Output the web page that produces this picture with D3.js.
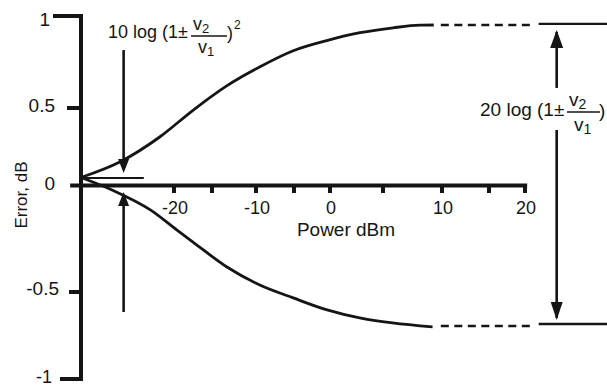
<!DOCTYPE html>
<html><head><meta charset="utf-8">
<script src="https://cdn.jsdelivr.net/npm/d3@7"></script>
<style>
body{margin:0;background:#fff}
svg{display:block}
text{font-family:"Liberation Sans",Arial,sans-serif;fill:#151515}
</style>
</head><body>
<svg id="c" width="607" height="388"></svg>
<script>
// ---- data ----
const yTickValues = [1, 0.5, 0, -0.5, -1];
const yTickLabels = ["1", "0.5", "0", "-0.5", "-1"];
const xTickValues = [-20, -15, -10, -5, 0, 5, 10, 15, 20];
const xTickLabels = ["-20", "", "-10", "", "0", "", "10", "", "20"];

const upperPower = [-32, -27, -21.8, -17.46, -13.33, -9.47, -5.1, -0.46, 2.83, 5.87, 8.14, 9.3];
const upperError = [0.06, 0.158, 0.318, 0.487, 0.620, 0.724, 0.811, 0.866, 0.909, 0.936, 0.950, 0.951];
const lowerPower = [-32, -28, -23, -19.6, -17.5, -13.3, -9.5, -5.1, -0.4, 2.8, 5.8, 9.2];
const lowerError = [0.06, -0.014, -0.11, -0.205, -0.262, -0.381, -0.467, -0.534, -0.603, -0.649, -0.678, -0.701];

const dashPower = [9.9, 20.9];
const tailPower = [21.9, 32];
const upperLevels = [0.951, 0.957];   // dashed, solid tail
const lowerLevels = [-0.695, -0.684];

const spanPower = 24.4;                 // right double arrow
const spanRange = [0.957, -0.684];
const spanGap = [0.609, 0.361];         // where the label interrupts
const markPower = -26.5;                // left arrows
const markUpper = [0.815, 0.089];
const markLower = [-0.024, -0.615];
const startLevel = 0.057;
const startLine = [-32, -23.9];

// ---- scales ----
const x = d3.scaleLinear()
  .domain([-32, -20, -15, -10, -5, 0, 5, 10, 15, 20])
  .range([81, 174, 212, 256, 294, 330, 383, 442, 489, 525]);
const y = d3.scaleLinear()
  .domain([-1, -0.5, 0, 0.5, 1])
  .range([379, 292, 187, 108, 16]);

const svg = d3.select("#c");
const ink = "#151515";

// ---- y axis (bracket style) ----
const yTickLen = {"1": 28, "0.5": 14, "0": 0, "-0.5": 12, "-1": 21};
const yLabelGap = {"1": 31, "0.5": 26, "0": 26, "-0.5": 22, "-1": 29};
const yLabelDy = {"1": 3.5, "0.5": -3, "0": -3.5, "-0.5": -3.5, "-1": -2};
const yLabelSize = {"1": 19, "0.5": 19, "0": 19, "-0.5": 19, "-1": 18};
svg.append("line").attr("x1", x(-32)).attr("x2", x(-32))
  .attr("y1", y(1) - 2).attr("y2", y(-1) + 2)
  .attr("stroke", ink).attr("stroke-width", 4);
yTickValues.forEach((v, i) => {
  const k = String(v);
  const len = yTickLen[k];
  if (len > 0) {
    svg.append("line").attr("x1", x(-32) - len).attr("x2", x(-32) + 2)
      .attr("y1", y(v)).attr("y2", y(v))
      .attr("stroke", ink).attr("stroke-width", 4);
  }
  svg.append("text").attr("x", x(-32) - yLabelGap[k]).attr("y", y(v) + yLabelDy[k])
    .attr("text-anchor", "end").attr("dominant-baseline", "central")
    .attr("font-size", yLabelSize[k]).text(yTickLabels[i]);
});
svg.append("text")
  .attr("transform", `translate(21,195) rotate(-90)`)
  .attr("text-anchor", "middle").attr("dominant-baseline", "central")
  .attr("font-size", 17).text("Error, dB");

// ---- x axis ----
svg.append("line").attr("x1", x(-33.4)).attr("x2", x(20.3))
  .attr("y1", y(0) - 1.5).attr("y2", y(0) - 1.5)
  .attr("stroke", ink).attr("stroke-width", 4);
xTickValues.forEach((v, i) => {
  svg.append("line").attr("x1", x(v)).attr("x2", x(v))
    .attr("y1", y(0)).attr("y2", y(0) + 6)
    .attr("stroke", ink).attr("stroke-width", 4);
  if (xTickLabels[i]) {
    svg.append("text").attr("x", x(v) + 1).attr("y", y(0) + 21)
      .attr("text-anchor", "middle").attr("dominant-baseline", "central")
      .attr("font-size", 18).text(xTickLabels[i]);
  }
});
svg.append("text").attr("x", 346).attr("y", 229)
  .attr("text-anchor", "middle").attr("dominant-baseline", "central")
  .attr("font-size", 19).text("Power dBm");

// ---- curves ----
const line = d3.line().x(d => x(d[0])).y(d => y(d[1])).curve(d3.curveMonotoneX);
const upper = upperPower.map((p, i) => [p, upperError[i]]);
const lower = lowerPower.map((p, i) => [p, lowerError[i]]);
[upper, lower].forEach(pts => {
  svg.append("path").attr("d", line(pts)).attr("fill", "none")
    .attr("stroke", ink).attr("stroke-width", 2.8);
});
[upperLevels, lowerLevels].forEach(lv => {
  svg.append("line").attr("x1", x(dashPower[0])).attr("x2", x(dashPower[1]))
    .attr("y1", y(lv[0])).attr("y2", y(lv[0]))
    .attr("stroke", ink).attr("stroke-width", 2.6).attr("stroke-dasharray", "8,5.5");
  svg.append("line").attr("x1", x(tailPower[0])).attr("x2", x(tailPower[1]))
    .attr("y1", y(lv[1])).attr("y2", y(lv[1]))
    .attr("stroke", ink).attr("stroke-width", 2.4);
});

// ---- annotations ----
function arrowHead(px, tipY, dir, len, half) {
  // dir = -1 pointing up, +1 pointing down
  const baseY = tipY - dir * len;
  svg.append("path")
    .attr("d", `M${px},${tipY}L${px - half},${baseY}L${px + half},${baseY}Z`)
    .attr("fill", ink);
}
const sx = x(spanPower);
svg.append("line").attr("x1", sx).attr("x2", sx)
  .attr("y1", y(spanRange[0]) + 8).attr("y2", y(spanGap[0]))
  .attr("stroke", ink).attr("stroke-width", 2.6);
svg.append("line").attr("x1", sx).attr("x2", sx)
  .attr("y1", y(spanGap[1])).attr("y2", y(spanRange[1]) - 6)
  .attr("stroke", ink).attr("stroke-width", 2.6);
arrowHead(sx, y(spanRange[0]) + 6, -1, 18, 6.5);
arrowHead(sx, y(spanRange[1]) - 4, 1, 18, 6);

const mx = x(markPower);
svg.append("line").attr("x1", mx).attr("x2", mx)
  .attr("y1", y(markUpper[0])).attr("y2", y(markUpper[1]) - 6)
  .attr("stroke", ink).attr("stroke-width", 2.6);
arrowHead(mx, y(markUpper[1]), 1, 14, 5.5);
svg.append("line").attr("x1", mx).attr("x2", mx)
  .attr("y1", y(markLower[0]) + 6).attr("y2", y(markLower[1]))
  .attr("stroke", ink).attr("stroke-width", 2.6);
arrowHead(mx, y(markLower[0]), -1, 14, 5.5);
svg.append("line").attr("x1", x(startLine[0])).attr("x2", x(startLine[1]))
  .attr("y1", y(startLevel)).attr("y2", y(startLevel))
  .attr("stroke", ink).attr("stroke-width", 2.2);

// formula helper
function formula(g, o) {
  g.append("text").attr("x", o.x).attr("y", o.base).attr("font-size", o.fs).text(o.lead);
  const fx = o.fx;
  const t2 = g.append("text").attr("x", fx + 2).attr("y", o.numBase).attr("font-size", o.vs);
  t2.append("tspan").text("v");
  t2.append("tspan").attr("font-size", o.vs - 5).attr("dy", 3).text("2");
  g.append("line").attr("x1", fx).attr("x2", fx + o.bw)
    .attr("y1", o.barY).attr("y2", o.barY)
    .attr("stroke", ink).attr("stroke-width", 1.3);
  const t1 = g.append("text").attr("x", fx + 7).attr("y", o.denBase).attr("font-size", o.vs);
  t1.append("tspan").text("v");
  t1.append("tspan").attr("font-size", o.vs - 5).attr("dy", 3).text("1");
  g.append("text").attr("x", o.px).attr("y", o.base + 1).attr("font-size", o.fs).text(")");
  if (o.sq) {
    g.append("text").attr("x", o.px + 7).attr("y", o.base - 9).attr("font-size", o.fs - 6).text("2");
  }
}
formula(svg.append("g"), {x: 108, base: 38, fs: 18, lead: "10 log (1\u00b1",
  fx: 191, bw: 36, px: 227, vs: 18, numBase: 29.5, barY: 36, denBase: 52.5, sq: true});
formula(svg.append("g"), {x: 480, base: 116, fs: 19, lead: "20 log (1\u00b1",
  fx: 567, bw: 33, px: 599, vs: 19, numBase: 106, barY: 112, denBase: 130.5, sq: false});
</script>
</body></html>
